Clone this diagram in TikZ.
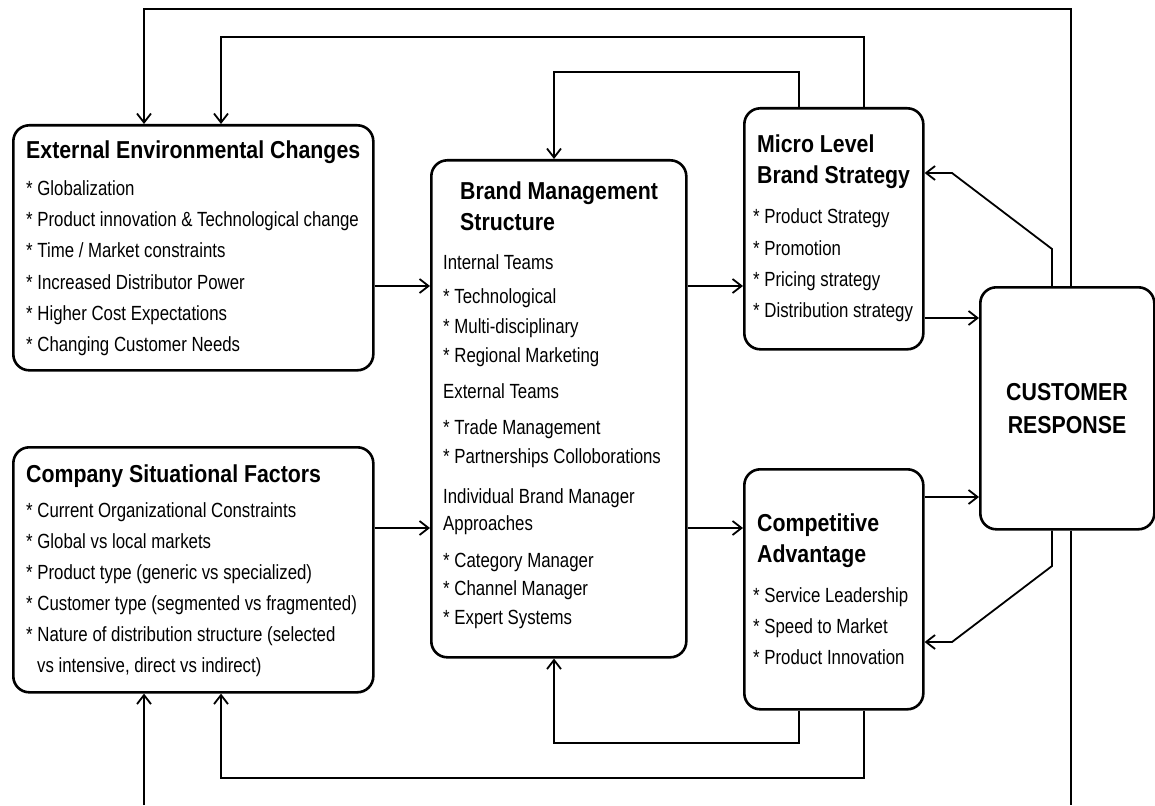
\documentclass[tikz,border=0pt]{standalone}
\usepackage{fontspec}
\setmainfont{Liberation Sans}[FakeStretch=0.82]
\newfontfamily\ttlfont{Liberation Sans}[FakeStretch=0.87]
\usetikzlibrary{arrows.meta}
\begin{document}
\begin{tikzpicture}[x=1pt,y=-1pt,
  box/.style={draw, line width=2.6pt, rounded corners=16pt, inner sep=0pt, anchor=north west},
  conn/.style={line width=1.8pt},
  arr/.style={conn, -{Straight Barb[length=9pt,width=14pt,line width=1.8pt]}},
  ttl/.style={anchor=base west, inner sep=0pt, font=\ttlfont\bfseries\fontsize{24.5}{28}\selectfont},
  itm/.style={anchor=base west, inner sep=0pt, font=\fontsize{20.5}{24}\selectfont},
]
\useasboundingbox (0,0) rectangle (1155,805);

% boxes
\node[box, minimum width=360pt, minimum height=245pt] (ext) at (12,124) {};
\node[box, minimum width=360pt, minimum height=245pt] (csf) at (12,446) {};
\node[box, minimum width=255pt, minimum height=497pt] (brand) at (430,159) {};
\node[box, minimum width=179pt, minimum height=241pt] (micro) at (743,107) {};
\node[box, minimum width=179pt, minimum height=240pt] (comp) at (743,468) {};
\node[box, minimum width=174pt, minimum height=242pt] (cust) at (979,286) {};

% External
\node[ttl] (ext-t) at (26,159) {External Environmental Changes};
\node[itm] (ext-1) at (26,195) {* Globalization};
\node[itm] (ext-2) at (26,226) {* Product innovation \& Technological change};
\node[itm] (ext-3) at (26,257) {* Time / Market constraints};
\node[itm] (ext-4) at (26,289) {* Increased Distributor Power};
\node[itm] (ext-5) at (26,320) {* Higher Cost Expectations};
\node[itm] (ext-6) at (26,351) {* Changing Customer Needs};

% Company
\node[ttl] (csf-t) at (26,482) {Company Situational Factors};
\node[itm] (csf-1) at (26,517) {* Current Organizational Constraints};
\node[itm] (csf-2) at (26,548) {* Global vs local markets};
\node[itm] (csf-3) at (26,579) {* Product type (generic vs specialized)};
\node[itm] (csf-4) at (26,610) {* Customer type (segmented vs fragmented)};
\node[itm] (csf-5) at (26,641) {* Nature of distribution structure (selected};
\node[itm] (csf-6) at (37,672) {vs intensive, direct vs indirect)};

% Brand
\node[ttl] (br-t1) at (460,199) {Brand Management};
\node[ttl] (br-t2) at (460,230) {Structure};
\node[itm] (br-1) at (443,269) {Internal Teams};
\node[itm] (br-2) at (443,303) {* Technological};
\node[itm] (br-3) at (443,333) {* Multi-disciplinary};
\node[itm] (br-4) at (443,362) {* Regional Marketing};
\node[itm] (br-5) at (443,398) {External Teams};
\node[itm] (br-6) at (443,434) {* Trade Management};
\node[itm] (br-7) at (443,463) {* Partnerships Colloborations};
\node[itm] (br-8) at (443,503) {Individual Brand Manager};
\node[itm] (br-9) at (443,530) {Approaches};
\node[itm] (br-10) at (443,567) {* Category Manager};
\node[itm] (br-11) at (443,595) {* Channel Manager};
\node[itm] (br-12) at (443,624) {* Expert Systems};

% Micro
\node[ttl] (mi-t1) at (757,153) {Micro Level};
\node[ttl] (mi-t2) at (757,183) {Brand Strategy};
\node[itm] (mi-1) at (753,223) {* Product Strategy};
\node[itm] (mi-2) at (753,255) {* Promotion};
\node[itm] (mi-3) at (753,286) {* Pricing strategy};
\node[itm] (mi-4) at (753,317) {* Distribution strategy};

% Competitive
\node[ttl] (co-t1) at (757,531) {Competitive};
\node[ttl] (co-t2) at (757,562) {Advantage};
\node[itm] (co-1) at (753,602) {* Service Leadership};
\node[itm] (co-2) at (753,633) {* Speed to Market};
\node[itm] (co-3) at (753,664) {* Product Innovation};

% Customer
\node[ttl, anchor=base] (cu-1) at (1067,400) {CUSTOMER};
\node[ttl, anchor=base] (cu-2) at (1067,433) {RESPONSE};

% bend coordinates
\coordinate (t1) at (144,9);   \coordinate (t1r) at (1071,9);
\coordinate (t2) at (221,37);  \coordinate (t2r) at (864,37);
\coordinate (t3) at (554,72);  \coordinate (t3r) at (799,72);
\coordinate (d1) at (1052,249); \coordinate (d2) at (952,173);
\coordinate (d3) at (1052,566); \coordinate (d4) at (952,642);
\coordinate (b1) at (554,743); \coordinate (b1r) at (799,743);
\coordinate (b2) at (221,778); \coordinate (b2r) at (864,778);
\coordinate (e1) at (1071,805); \coordinate (e2) at (144,805);
\coordinate (h1) at (0,286); \coordinate (h2) at (0,318);
\coordinate (h3) at (0,528); \coordinate (h4) at (0,497);

% connectors
\draw[arr] (cust.north -| t1r) -- (t1r) -- (t1) -- (ext.north -| t1);
\draw[arr] (micro.north -| t2r) -- (t2r) -- (t2) -- (ext.north -| t2);
\draw[arr] (micro.north -| t3r) -- (t3r) -- (t3) -- (brand.north -| t3);
\draw[arr] (cust.north -| d1) -- (d1) -- (d2) -- (micro.east |- d2);
\draw[arr] (ext.east |- h1) -- (brand.west |- h1);
\draw[arr] (brand.east |- h1) -- (micro.west |- h1);
\draw[arr] (micro.east |- h2) -- (cust.west |- h2);
\draw[arr] (csf.east |- h3) -- (brand.west |- h3);
\draw[arr] (brand.east |- h3) -- (comp.west |- h3);
\draw[arr] (comp.east |- h4) -- (cust.west |- h4);
\draw[arr] (cust.south -| d3) -- (d3) -- (d4) -- (comp.east |- d4);
\draw[arr] (comp.south -| b1r) -- (b1r) -- (b1) -- (brand.south -| b1);
\draw[arr] (comp.south -| b2r) -- (b2r) -- (b2) -- (csf.south -| b2);
\draw[conn] (cust.south -| e1) -- (e1);
\draw[arr] (e2) -- (csf.south -| e2);
\end{tikzpicture}
\end{document}
